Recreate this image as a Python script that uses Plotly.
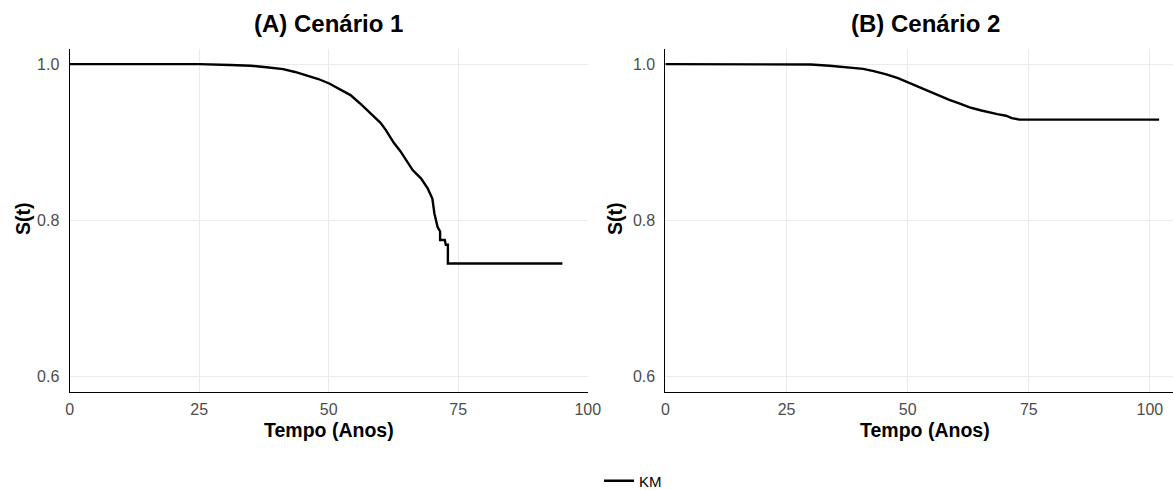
import plotly.graph_objects as go

# ---- data ----
time_a = [0, 25, 31, 35, 38, 41.2, 43.5, 45.7, 48, 50.1, 52, 54.2, 56, 58, 60, 61,
          62, 62.6, 63.8, 64.5, 65.3, 66.2, 67.8, 69.1, 70.0, 70.2, 70.4, 71.0,
          71.5, 71.5, 72.4, 72.6, 73.0, 73.0, 95.1]
surv_a = [1.0, 1.0, 0.999, 0.998, 0.996, 0.9936, 0.990, 0.986, 0.981, 0.9753, 0.968,
          0.9604, 0.950, 0.938, 0.925, 0.916, 0.905, 0.899, 0.889, 0.8815, 0.873,
          0.8645, 0.854, 0.841, 0.828, 0.815, 0.809, 0.792, 0.786, 0.775, 0.775,
          0.769, 0.769, 0.745, 0.745]

time_b = [0, 25, 30, 33.9, 37, 40.8, 43, 45.6, 48, 50.1, 52, 54.5, 56.5, 58.6, 60.5,
          62.8, 65, 66.9, 68.5, 70.3, 71.5, 73.1, 101.9]
surv_b = [1.0, 1.0, 0.9995, 0.998, 0.996, 0.994, 0.991, 0.987, 0.982, 0.9765, 0.971,
          0.965, 0.9595, 0.9544, 0.950, 0.9447, 0.941, 0.938, 0.936, 0.934, 0.931,
          0.929, 0.929]

x_ticks = [0, 25, 50, 75, 100]
y_ticks = [0.6, 0.8, 1.0]
y_tick_text = ["0.6", "0.8", "1.0"]
panel_titles = ["(A) Cenário 1", "(B) Cenário 2"]
x_title = "Tempo (Anos)"
y_title = "S(t)"
series_name = "KM"

W, H = 1173, 490
FONT = "Liberation Sans, Arial, Helvetica, sans-serif"

def px_x(p):
    return p / W

def px_y(p):
    return 1 - p / H

fig = go.Figure()
fig.add_trace(go.Scatter(x=time_a, y=surv_a, mode="lines", name=series_name,
                         line=dict(color="black", width=2.4),
                         xaxis="x", yaxis="y", showlegend=True))
fig.add_trace(go.Scatter(x=time_b, y=surv_b, mode="lines", name=series_name,
                         line=dict(color="black", width=2.4),
                         xaxis="x2", yaxis="y2", showlegend=False))

y_dom = [px_y(391.7), px_y(49.3)]
axis_common = dict(showgrid=True, gridcolor="#ebebeb", gridwidth=1.2,
                   zeroline=False, showline=True, linecolor="black",
                   linewidth=1.1, ticks="", automargin=False,
                   tickfont=dict(family=FONT, size=16, color="#4d4d4d"))

fig.update_layout(
    template="none",
    width=W, height=H,
    margin=dict(l=0, r=0, t=0, b=0, autoexpand=False),
    plot_bgcolor="white", paper_bgcolor="white",
    font=dict(family=FONT, color="black"),
    xaxis=dict(domain=[px_x(69.6), px_x(587.8)], range=[0, 100],
               tickvals=x_ticks, anchor="y", ticklabelstandoff=3, **axis_common),
    yaxis=dict(domain=y_dom, range=[0.581, 1.019], tickvals=y_ticks,
               ticktext=y_tick_text, anchor="x", ticklabelstandoff=6, **axis_common),
    xaxis2=dict(domain=[px_x(665.4), 1.0], range=[0, (W - 665.4) / 4.845],
                tickvals=x_ticks, anchor="y2", ticklabelstandoff=3, **axis_common),
    yaxis2=dict(domain=y_dom, range=[0.581, 1.019], tickvals=y_ticks,
                ticktext=y_tick_text, anchor="x2", ticklabelstandoff=6, **axis_common),
    showlegend=True,
    legend=dict(orientation="h", x=px_x(599), xanchor="left",
                y=px_y(481), yanchor="middle",
                font=dict(family=FONT, size=15, color="black"),
                bgcolor="rgba(0,0,0,0)", borderwidth=0),
)

annotations = []
for cx, t in zip([328.7, 925], panel_titles):
    annotations.append(dict(x=px_x(cx), y=px_y(23), xref="paper", yref="paper",
                            text="<b>" + t + "</b>", showarrow=False,
                            xanchor="center", yanchor="middle",
                            font=dict(family=FONT, size=24, color="black")))
for cx in [328.7, 925]:
    annotations.append(dict(x=px_x(cx), y=px_y(430), xref="paper", yref="paper",
                            text="<b>" + x_title + "</b>", showarrow=False,
                            xanchor="center", yanchor="middle",
                            font=dict(family=FONT, size=19.5, color="black")))
for cx in [23, 615]:
    annotations.append(dict(x=px_x(cx), y=px_y(219), xref="paper", yref="paper",
                            text="<b>" + y_title + "</b>", showarrow=False,
                            textangle=-90, xanchor="center", yanchor="middle",
                            font=dict(family=FONT, size=19.5, color="black")))
fig.update_layout(annotations=annotations)

fig.write_html("out.html", config={"displayModeBar": False},
               post_script="document.body.style.margin='0';")
